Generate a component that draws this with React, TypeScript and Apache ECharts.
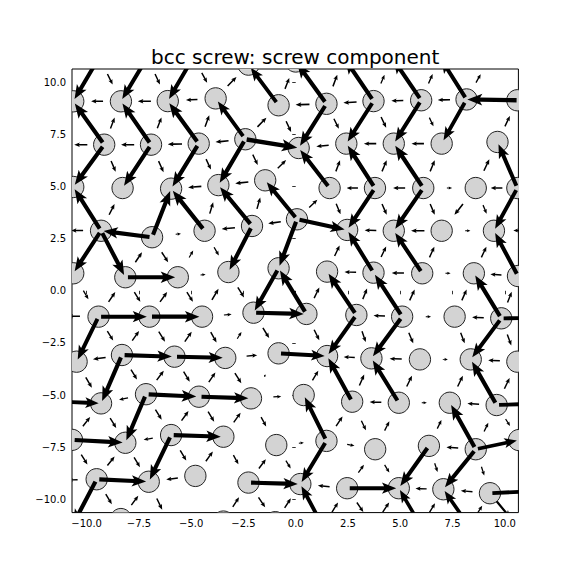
import React, { useEffect, useRef } from 'react';
import * as echarts from 'echarts';

// Atom positions (data units), grouped by lattice row, top to bottom; off-axis neighbours included
const row0 = [[-9.4, 11.2], [-7.1, 11.2], [-4.9, 11.2], [-2.26, 10.85], [0.0, 11.0], [2.3, 11.2], [4.6, 11.2], [6.9, 11.2], [9.3, 11.2]];
const row1 = [[-10.64, 9.09], [-8.36, 9.09], [-6.12, 9.1], [-3.83, 9.23], [-0.82, 8.9], [1.47, 8.97], [3.72, 9.1], [6.0, 9.14], [8.17, 9.18], [10.6, 9.14]];
const row2 = [[-11.4, 7.0], [-9.16, 7.01], [-6.92, 7.01], [-4.64, 7.06], [-2.41, 7.27], [0.14, 6.85], [2.42, 7.06], [4.69, 7.06], [6.98, 7.06], [9.65, 7.14], [11.9, 7.1]];
const row3 = [[-10.64, 4.98], [-8.28, 4.93], [-5.96, 4.9], [-3.7, 5.07], [-1.46, 5.3], [1.62, 4.93], [3.79, 4.93], [6.1, 4.93], [8.61, 4.93], [10.6, 4.93]];
const row4 = [[-11.6, 2.9], [-9.31, 2.88], [-6.87, 2.57], [-4.36, 2.88], [-2.09, 3.11], [0.06, 3.43], [2.46, 2.92], [4.69, 2.88], [6.98, 2.88], [9.48, 2.88], [11.8, 2.9]];
const row5 = [[-10.64, 0.84], [-8.15, 0.65], [-5.64, 0.65], [-3.22, 0.9], [-0.82, 1.08], [1.5, 0.92], [3.72, 0.87], [6.05, 0.84], [8.52, 0.84], [10.63, 0.71]];
const row6 = [[-11.8, -1.2], [-9.43, -1.24], [-7.0, -1.24], [-4.48, -1.24], [-2.02, -1.05], [0.51, -1.11], [2.9, -1.16], [5.09, -1.24], [7.6, -1.24], [9.83, -1.32], [12.1, -1.3]];
const row7 = [[-10.48, -3.4], [-8.31, -3.08], [-5.8, -3.16], [-3.37, -3.22], [-0.82, -3.0], [1.5, -3.13], [3.62, -3.24], [5.94, -3.29], [8.37, -3.29], [10.6, -3.4]];
const row8 = [[-11.6, -5.3], [-9.31, -5.4], [-7.16, -4.96], [-4.63, -5.08], [-2.14, -5.16], [0.38, -5.0], [2.7, -5.32], [4.93, -5.37], [7.37, -5.37], [9.61, -5.48], [11.9, -5.4]];
const row9 = [[-10.7, -7.15], [-8.15, -7.29], [-5.96, -6.92], [-3.46, -7.0], [-0.93, -7.4], [1.47, -7.2], [3.8, -7.6], [6.37, -7.44], [8.61, -7.6], [10.68, -7.16]];
const row10 = [[-11.8, -9.1], [-9.52, -9.04], [-7.03, -9.16], [-4.8, -8.88], [-2.26, -9.2], [0.22, -9.27], [2.46, -9.47], [4.93, -9.47], [7.06, -9.52], [9.29, -9.71], [11.6, -9.6]];
const row11 = [[-10.7, -11.3], [-8.36, -10.95], [-6.0, -11.3], [-3.46, -11.07], [-0.98, -11.1], [1.3, -11.3], [3.7, -11.3], [6.0, -11.3], [8.3, -11.3], [10.6, -11.3]];

// Differential displacement arrows on bonds: [fromRow, fromCol, toRow, toCol, fraction of bond length]
const bonds01 = [
  [0, 0, 1, 0, 0.9], [0, 0, 1, 1, 0.24], [0, 1, 1, 1, 0.9], [0, 1, 1, 2, 0.24], [0, 2, 1, 2, 0.9], [0, 2, 1, 3, 0.24],
  [1, 3, 0, 3, 0.27], [1, 4, 0, 3, 0.85], [1, 4, 0, 4, 0.25], [1, 5, 0, 4, 0.9], [1, 5, 0, 5, 0.25], [1, 6, 0, 5, 0.9],
  [1, 6, 0, 6, 0.2], [1, 7, 0, 6, 0.9], [1, 7, 0, 7, 0.22], [1, 8, 0, 7, 0.9], [1, 8, 0, 8, 0.2],
  [1, 1, 1, 0, 0.25], [1, 2, 1, 1, 0.28], [1, 3, 1, 2, 0.24], [1, 5, 1, 4, 0.29], [1, 6, 1, 5, 0.28], [1, 7, 1, 6, 0.25],
  [1, 8, 1, 7, 0.27], [1, 9, 1, 8, 0.97],
];
const bonds12 = [
  [2, 1, 1, 0, 0.9], [2, 1, 1, 1, 0.25], [2, 2, 1, 1, 0.9], [2, 2, 1, 2, 0.25], [2, 3, 1, 2, 0.9], [2, 3, 1, 3, 0.25],
  [2, 4, 1, 3, 0.85], [2, 4, 1, 4, 0.27], [1, 4, 2, 5, 0.25], [1, 5, 2, 5, 0.9], [1, 5, 2, 6, 0.25], [1, 6, 2, 6, 0.9],
  [1, 6, 2, 7, 0.25], [1, 7, 2, 7, 0.9], [1, 7, 2, 8, 0.2], [1, 8, 2, 8, 0.85], [2, 9, 1, 9, 0.25],
  [2, 1, 2, 0, 0.28], [2, 2, 2, 1, 0.28], [2, 3, 2, 2, 0.3], [2, 4, 2, 3, 0.28], [2, 4, 2, 5, 0.95], [2, 6, 2, 5, 0.26],
  [2, 7, 2, 6, 0.26], [2, 8, 2, 7, 0.26],
];
const bonds23 = [
  [2, 1, 3, 0, 0.9], [2, 1, 3, 1, 0.25], [2, 2, 3, 1, 0.9], [2, 2, 3, 2, 0.25], [2, 3, 3, 2, 0.9], [2, 3, 3, 3, 0.25],
  [2, 4, 3, 3, 0.9], [2, 4, 3, 4, 0.25], [3, 4, 2, 5, 0.25], [3, 5, 2, 5, 0.9], [3, 5, 2, 6, 0.25], [3, 6, 2, 6, 0.9],
  [3, 6, 2, 7, 0.25], [3, 7, 2, 7, 0.9], [3, 7, 2, 8, 0.25], [3, 8, 2, 9, 0.25], [3, 9, 2, 9, 0.9],
  [3, 3, 3, 2, 0.28], [3, 4, 3, 3, 0.28], [3, 6, 3, 5, 0.25], [3, 7, 3, 6, 0.25], [3, 7, 3, 8, 0.1], [3, 9, 3, 8, 0.28],
];
const bonds34 = [
  [4, 1, 3, 0, 0.9], [4, 1, 3, 1, 0.25], [4, 2, 3, 2, 0.9], [4, 3, 3, 2, 0.9], [4, 3, 3, 3, 0.25], [4, 4, 3, 3, 0.9],
  [4, 4, 3, 4, 0.25], [4, 5, 3, 4, 0.9], [4, 5, 3, 5, 0.25], [3, 5, 4, 6, 0.25], [3, 6, 4, 6, 0.9], [3, 6, 4, 7, 0.25],
  [3, 7, 4, 7, 0.9], [3, 7, 4, 8, 0.25], [3, 8, 4, 8, 0.25], [3, 8, 4, 9, 0.2], [3, 9, 4, 9, 0.9],
  [4, 1, 4, 0, 0.25], [4, 2, 4, 1, 0.9], [4, 2, 4, 3, 0.1], [4, 4, 4, 3, 0.28], [4, 5, 4, 4, 0.28], [4, 5, 4, 6, 0.9],
  [4, 7, 4, 6, 0.25], [4, 8, 4, 7, 0.28], [4, 8, 4, 9, 0.1], [4, 10, 4, 9, 0.2],
];
const bonds45 = [
  [4, 1, 5, 0, 0.9], [4, 1, 5, 1, 0.9], [5, 1, 4, 2, 0.25], [4, 2, 5, 2, 0.25], [5, 2, 4, 3, 0.15], [4, 3, 5, 3, 0.2],
  [4, 4, 5, 3, 0.9], [4, 5, 5, 4, 0.9], [5, 5, 4, 6, 0.25], [5, 6, 4, 6, 0.9], [5, 6, 4, 7, 0.25], [5, 7, 4, 7, 0.9],
  [5, 7, 4, 8, 0.25], [5, 8, 4, 9, 0.25], [5, 9, 4, 9, 0.9],
  [5, 1, 5, 2, 0.9], [5, 2, 5, 3, 0.1], [5, 6, 5, 5, 0.25], [5, 7, 5, 6, 0.25], [5, 7, 5, 8, 0.1], [5, 9, 5, 8, 0.25],
];
const bonds56 = [
  [5, 0, 6, 1, 0.2], [6, 1, 5, 1, 0.25], [5, 1, 6, 2, 0.25], [6, 2, 5, 2, 0.25], [5, 2, 6, 3, 0.25], [6, 3, 5, 3, 0.25],
  [5, 3, 6, 4, 0.25], [5, 4, 6, 4, 0.9], [6, 5, 5, 4, 0.9], [6, 5, 5, 5, 0.25], [6, 6, 5, 5, 0.9], [6, 6, 5, 6, 0.25],
  [6, 7, 5, 6, 0.9], [6, 7, 5, 7, 0.25], [6, 8, 5, 8, 0.25], [6, 9, 5, 8, 0.9], [6, 9, 5, 9, 0.25],
  [6, 1, 6, 0, 0.25], [6, 1, 6, 2, 0.9], [6, 2, 6, 3, 0.9], [6, 3, 6, 4, 0.15], [6, 4, 6, 5, 0.9], [6, 7, 6, 6, 0.25],
  [6, 7, 6, 8, 0.1], [6, 9, 6, 8, 0.25], [6, 9, 6, 10, 0.9],
];
const bonds67 = [
  [6, 1, 7, 0, 0.9], [6, 1, 7, 1, 0.25], [7, 1, 6, 2, 0.25], [6, 2, 7, 2, 0.25], [7, 2, 6, 3, 0.25], [6, 3, 7, 3, 0.25],
  [7, 3, 6, 4, 0.15], [6, 4, 7, 4, 0.25], [6, 5, 7, 5, 0.25], [6, 6, 7, 5, 0.9], [6, 6, 7, 6, 0.25], [6, 7, 7, 6, 0.9],
  [6, 7, 7, 7, 0.25], [6, 8, 7, 8, 0.25], [6, 9, 7, 8, 0.9], [6, 9, 7, 9, 0.25],
  [7, 1, 7, 0, 0.28], [7, 1, 7, 2, 0.9], [7, 2, 7, 3, 0.9], [7, 3, 7, 4, 0.2], [7, 4, 7, 5, 0.9], [7, 6, 7, 5, 0.25],
  [7, 7, 7, 6, 0.25], [7, 7, 7, 8, 0.1], [7, 9, 7, 8, 0.25],
];
const bonds78 = [
  [7, 1, 8, 1, 0.9], [7, 0, 8, 1, 0.25], [7, 1, 8, 2, 0.25], [8, 2, 7, 2, 0.25], [7, 2, 8, 3, 0.25], [8, 3, 7, 3, 0.25],
  [7, 3, 8, 4, 0.25], [7, 4, 8, 4, 0.05], [8, 5, 7, 5, 0.25], [8, 6, 7, 5, 0.9], [8, 6, 7, 6, 0.25], [8, 7, 7, 6, 0.9],
  [8, 7, 7, 7, 0.25], [8, 8, 7, 8, 0.25], [8, 9, 7, 8, 0.9], [8, 9, 7, 9, 0.25],
  [8, 0, 8, 1, 0.9], [8, 2, 8, 1, 0.2], [8, 2, 8, 3, 0.9], [8, 3, 8, 4, 0.9], [8, 4, 8, 5, 0.15], [8, 7, 8, 6, 0.25],
  [8, 7, 8, 8, 0.1], [8, 9, 8, 8, 0.25], [8, 9, 8, 10, 0.9],
];
const bonds89 = [
  [9, 0, 8, 1, 0.25], [8, 1, 9, 1, 0.25], [8, 2, 9, 1, 0.9], [8, 2, 9, 2, 0.25], [9, 2, 8, 3, 0.25], [8, 3, 9, 3, 0.25],
  [9, 3, 8, 4, 0.25], [8, 4, 9, 4, 0.2], [9, 5, 8, 5, 0.9], [9, 5, 8, 6, 0.25], [8, 6, 9, 6, 0.2], [9, 6, 8, 7, 0.2],
  [9, 7, 8, 8, 0.2], [9, 8, 8, 8, 0.9], [9, 8, 8, 9, 0.2], [8, 9, 9, 9, 0.2],
  [9, 0, 9, 1, 0.9], [9, 2, 9, 1, 0.2], [9, 2, 9, 3, 0.9], [9, 4, 9, 5, 0.1], [9, 5, 9, 6, 0.15], [9, 8, 9, 7, 0.25],
  [9, 8, 9, 9, 0.9],
];
const bonds910 = [
  [9, 0, 10, 1, 0.25], [10, 1, 9, 1, 0.25], [9, 1, 10, 2, 0.25], [9, 2, 10, 2, 0.9], [9, 2, 10, 3, 0.25], [10, 3, 9, 3, 0.25],
  [9, 3, 10, 4, 0.2], [10, 4, 9, 4, 0.25], [9, 4, 10, 5, 0.2], [9, 5, 10, 5, 0.9], [10, 6, 9, 6, 0.2], [9, 6, 10, 7, 0.2],
  [9, 7, 10, 7, 0.9], [9, 7, 10, 8, 0.2], [9, 8, 10, 8, 0.9], [9, 8, 10, 9, 0.2],
  [10, 1, 10, 0, 0.2], [10, 1, 10, 2, 0.9], [10, 3, 10, 2, 0.25], [10, 4, 10, 5, 0.9], [10, 6, 10, 5, 0.25],
  [10, 6, 10, 7, 0.9], [10, 8, 10, 7, 0.25], [10, 9, 10, 8, 0.25], [10, 9, 10, 10, 0.9],
];
const bonds1011 = [
  [10, 1, 11, 0, 0.9], [10, 1, 11, 1, 0.25], [11, 1, 10, 2, 0.25], [10, 2, 11, 2, 0.25], [11, 3, 10, 4, 0.25],
  [10, 4, 11, 4, 0.25], [11, 4, 10, 5, 0.25], [11, 5, 10, 5, 0.9], [11, 5, 10, 6, 0.25], [10, 6, 11, 6, 0.25],
  [11, 6, 10, 7, 0.25], [11, 7, 10, 7, 0.9], [11, 7, 10, 8, 0.25], [11, 8, 10, 8, 0.9], [11, 8, 10, 9, 0.25],
  [10, 9, 11, 9, 0.5],
];

const tickValues = [-10, -7.5, -5, -2.5, 0, 2.5, 5, 7.5, 10];
const titleText = 'bcc screw: screw component';

const rows = [row0, row1, row2, row3, row4, row5, row6, row7, row8, row9, row10, row11];
const allBonds = [...bonds01, ...bonds12, ...bonds23, ...bonds34, ...bonds45, ...bonds56, ...bonds67, ...bonds78, ...bonds89, ...bonds910, ...bonds1011];

function fmt(v: number) {
  const s = Math.abs(v).toFixed(1);
  return v < 0 ? '\u2212' + s : s;
}

export default function App() {
  const ref = useRef<HTMLDivElement>(null);
  useEffect(() => {
    const chart = echarts.init(ref.current as HTMLDivElement, null, { renderer: 'svg' });
    const atomData = rows.flat();
    const arrowData = allBonds.map(([r1, c1, r2, c2, f]) => {
      const a = rows[r1][c1];
      const b = rows[r2][c2];
      const mx = (a[0] + b[0]) / 2;
      const my = (a[1] + b[1]) / 2;
      const hx = ((b[0] - a[0]) * f) / 2;
      const hy = ((b[1] - a[1]) * f) / 2;
      return [mx - hx, my - hy, mx + hx, my + hy];
    });
    const font = 'DejaVu Sans, sans-serif';
    chart.setOption({
      animation: false,
      grid: { left: 72, top: 69, right: 57.6, bottom: 63.4, show: true, borderColor: '#000', borderWidth: 1, backgroundColor: 'transparent' },
      xAxis: {
        type: 'value', min: -10.7, max: 10.65,
        axisLine: { show: false }, splitLine: { show: false },
        axisTick: { show: true, customValues: tickValues, length: 3.5, lineStyle: { color: '#000', width: 0.8 } },
        axisLabel: { customValues: tickValues, formatter: fmt, color: '#000', fontSize: 10, fontFamily: font, margin: 6 },
      },
      yAxis: {
        type: 'value', min: -10.64, max: 10.64,
        axisLine: { show: false }, splitLine: { show: false },
        axisTick: { show: true, customValues: tickValues, length: 3.5, lineStyle: { color: '#000', width: 0.8 } },
        axisLabel: { customValues: tickValues, formatter: fmt, color: '#000', fontSize: 10, fontFamily: font, margin: 6 },
      },
      graphic: [{
        type: 'text', x: 295.2, y: 67,
        style: { text: titleText, fontSize: 20, fontFamily: font, fill: '#000', textAlign: 'center', textVerticalAlign: 'bottom' },
      }],
      series: [
        {
          type: 'custom', clip: true, z: 2,
          data: atomData,
          encode: { x: 0, y: 1 },
          renderItem: (params: any, api: any) => {
            const c = api.coord([api.value(0), api.value(1)]);
            const r = api.size([0.51, 0])[0];
            return { type: 'circle', shape: { cx: c[0], cy: c[1], r }, style: { fill: '#d3d3d3', stroke: '#222', lineWidth: 1 } };
          },
        },
        {
          type: 'custom', clip: true, z: 3,
          data: arrowData,
          encode: { x: [0, 2], y: [1, 3] },
          renderItem: (params: any, api: any) => {
            const p1 = api.coord([api.value(0), api.value(1)]);
            const p2 = api.coord([api.value(2), api.value(3)]);
            const dx = p2[0] - p1[0];
            const dy = p2[1] - p1[1];
            const L = Math.hypot(dx, dy);
            if (L < 0.5) return null;
            const ux = dx / L, uy = dy / L;
            const nx = -uy, ny = ux;
            const hl = Math.min(0.26 * L + 2.2, L * 0.75);
            const hw = 0.2 * L + 2;
            const sw = 0.075 * L + 0.6;
            const bx = p2[0] - ux * hl, by = p2[1] - uy * hl;
            const sx = p2[0] - ux * hl * 0.85, sy = p2[1] - uy * hl * 0.85;
            const pts = [
              [p1[0] + nx * sw / 2, p1[1] + ny * sw / 2],
              [sx + nx * sw / 2, sy + ny * sw / 2],
              [bx + nx * hw / 2, by + ny * hw / 2],
              [p2[0], p2[1]],
              [bx - nx * hw / 2, by - ny * hw / 2],
              [sx - nx * sw / 2, sy - ny * sw / 2],
              [p1[0] - nx * sw / 2, p1[1] - ny * sw / 2],
            ];
            return { type: 'polygon', shape: { points: pts }, style: { fill: '#000' } };
          },
        },
      ],
    });
    return () => chart.dispose();
  }, []);
  return <div ref={ref} style={{ position: 'fixed', left: 0, top: 0, width: 576, height: 576, background: '#fff' }} />;
}
